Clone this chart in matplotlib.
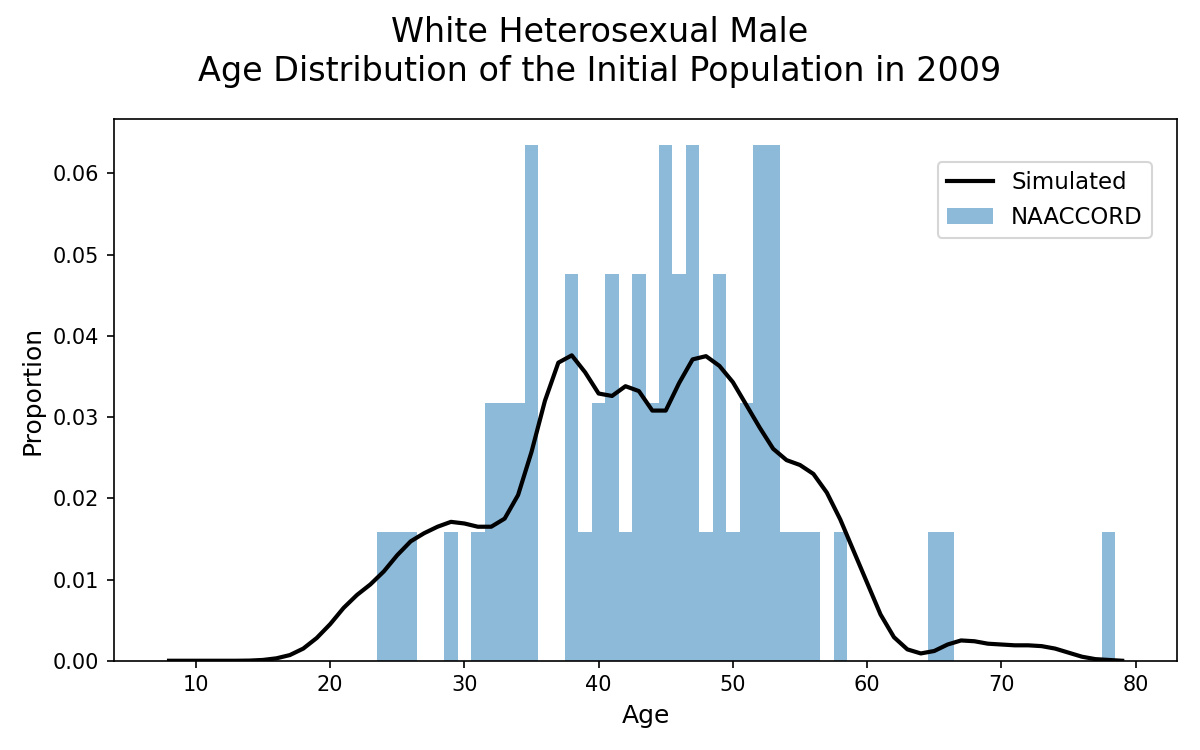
import numpy as np
import matplotlib
matplotlib.use("Agg")
import matplotlib.pyplot as plt

# NAACCORD counts by age (63 people)
naaccord_ages = [24, 25, 26, 29, 31, 32, 33, 34, 35, 38, 39, 40, 41, 42, 43, 44, 45,
                 46, 47, 48, 49, 50, 51, 52, 53, 54, 55, 56, 58, 65, 66, 78]
naaccord_counts = [1, 1, 1, 1, 1, 2, 2, 2, 4, 3, 1, 2, 3, 1, 3, 2, 4,
                   3, 4, 1, 3, 1, 2, 4, 4, 1, 1, 1, 1, 1, 1, 1]

# simulated proportion by age
sim_ages = list(range(8, 80))
sim_props = [0.0, 0.0, 0.0, 0.0, 0.0, 0.0, 0.00002, 0.0001, 0.0003, 0.0007,
             0.0015, 0.0028, 0.0045, 0.0065, 0.0081, 0.0094, 0.011, 0.013, 0.0147, 0.0157,
             0.0165, 0.0171, 0.0169, 0.0165, 0.0165, 0.0175, 0.0204, 0.0257, 0.032, 0.0367,
             0.0376, 0.0355, 0.0329, 0.0326, 0.0338, 0.0332, 0.0308, 0.0308, 0.0342, 0.0371,
             0.0375, 0.0363, 0.0343, 0.0315, 0.0287, 0.0261, 0.0247, 0.0241, 0.0230, 0.0207,
             0.0174, 0.0135, 0.0096, 0.0057, 0.0029, 0.0014, 0.0009, 0.0012, 0.0020, 0.0025,
             0.0024, 0.0021, 0.0020, 0.0019, 0.0019, 0.0018, 0.0015, 0.0010, 0.0005, 0.0002,
             0.0001, 0.0]

fig, ax = plt.subplots(figsize=(8, 5), dpi=150)
fig.subplots_adjust(left=0.095, right=0.981, bottom=0.119, top=0.841)

ax.plot(sim_ages, sim_props, color='black', lw=2, label='Simulated')
ax.hist(naaccord_ages, bins=np.arange(7.5, 80.5, 1), weights=naaccord_counts,
        density=True, alpha=0.5, color='tab:blue', label='NAACCORD')

ax.set_xlabel('Age', fontsize=12)
ax.set_ylabel('Proportion', fontsize=12)
fig.suptitle('White Heterosexual Male\nAge Distribution of the Initial Population in 2009',
             fontsize=16, y=0.978)
ax.legend(loc='upper right', bbox_to_anchor=(0.987, 0.942), fontsize=11)

fig.savefig('out.png', dpi=150)
